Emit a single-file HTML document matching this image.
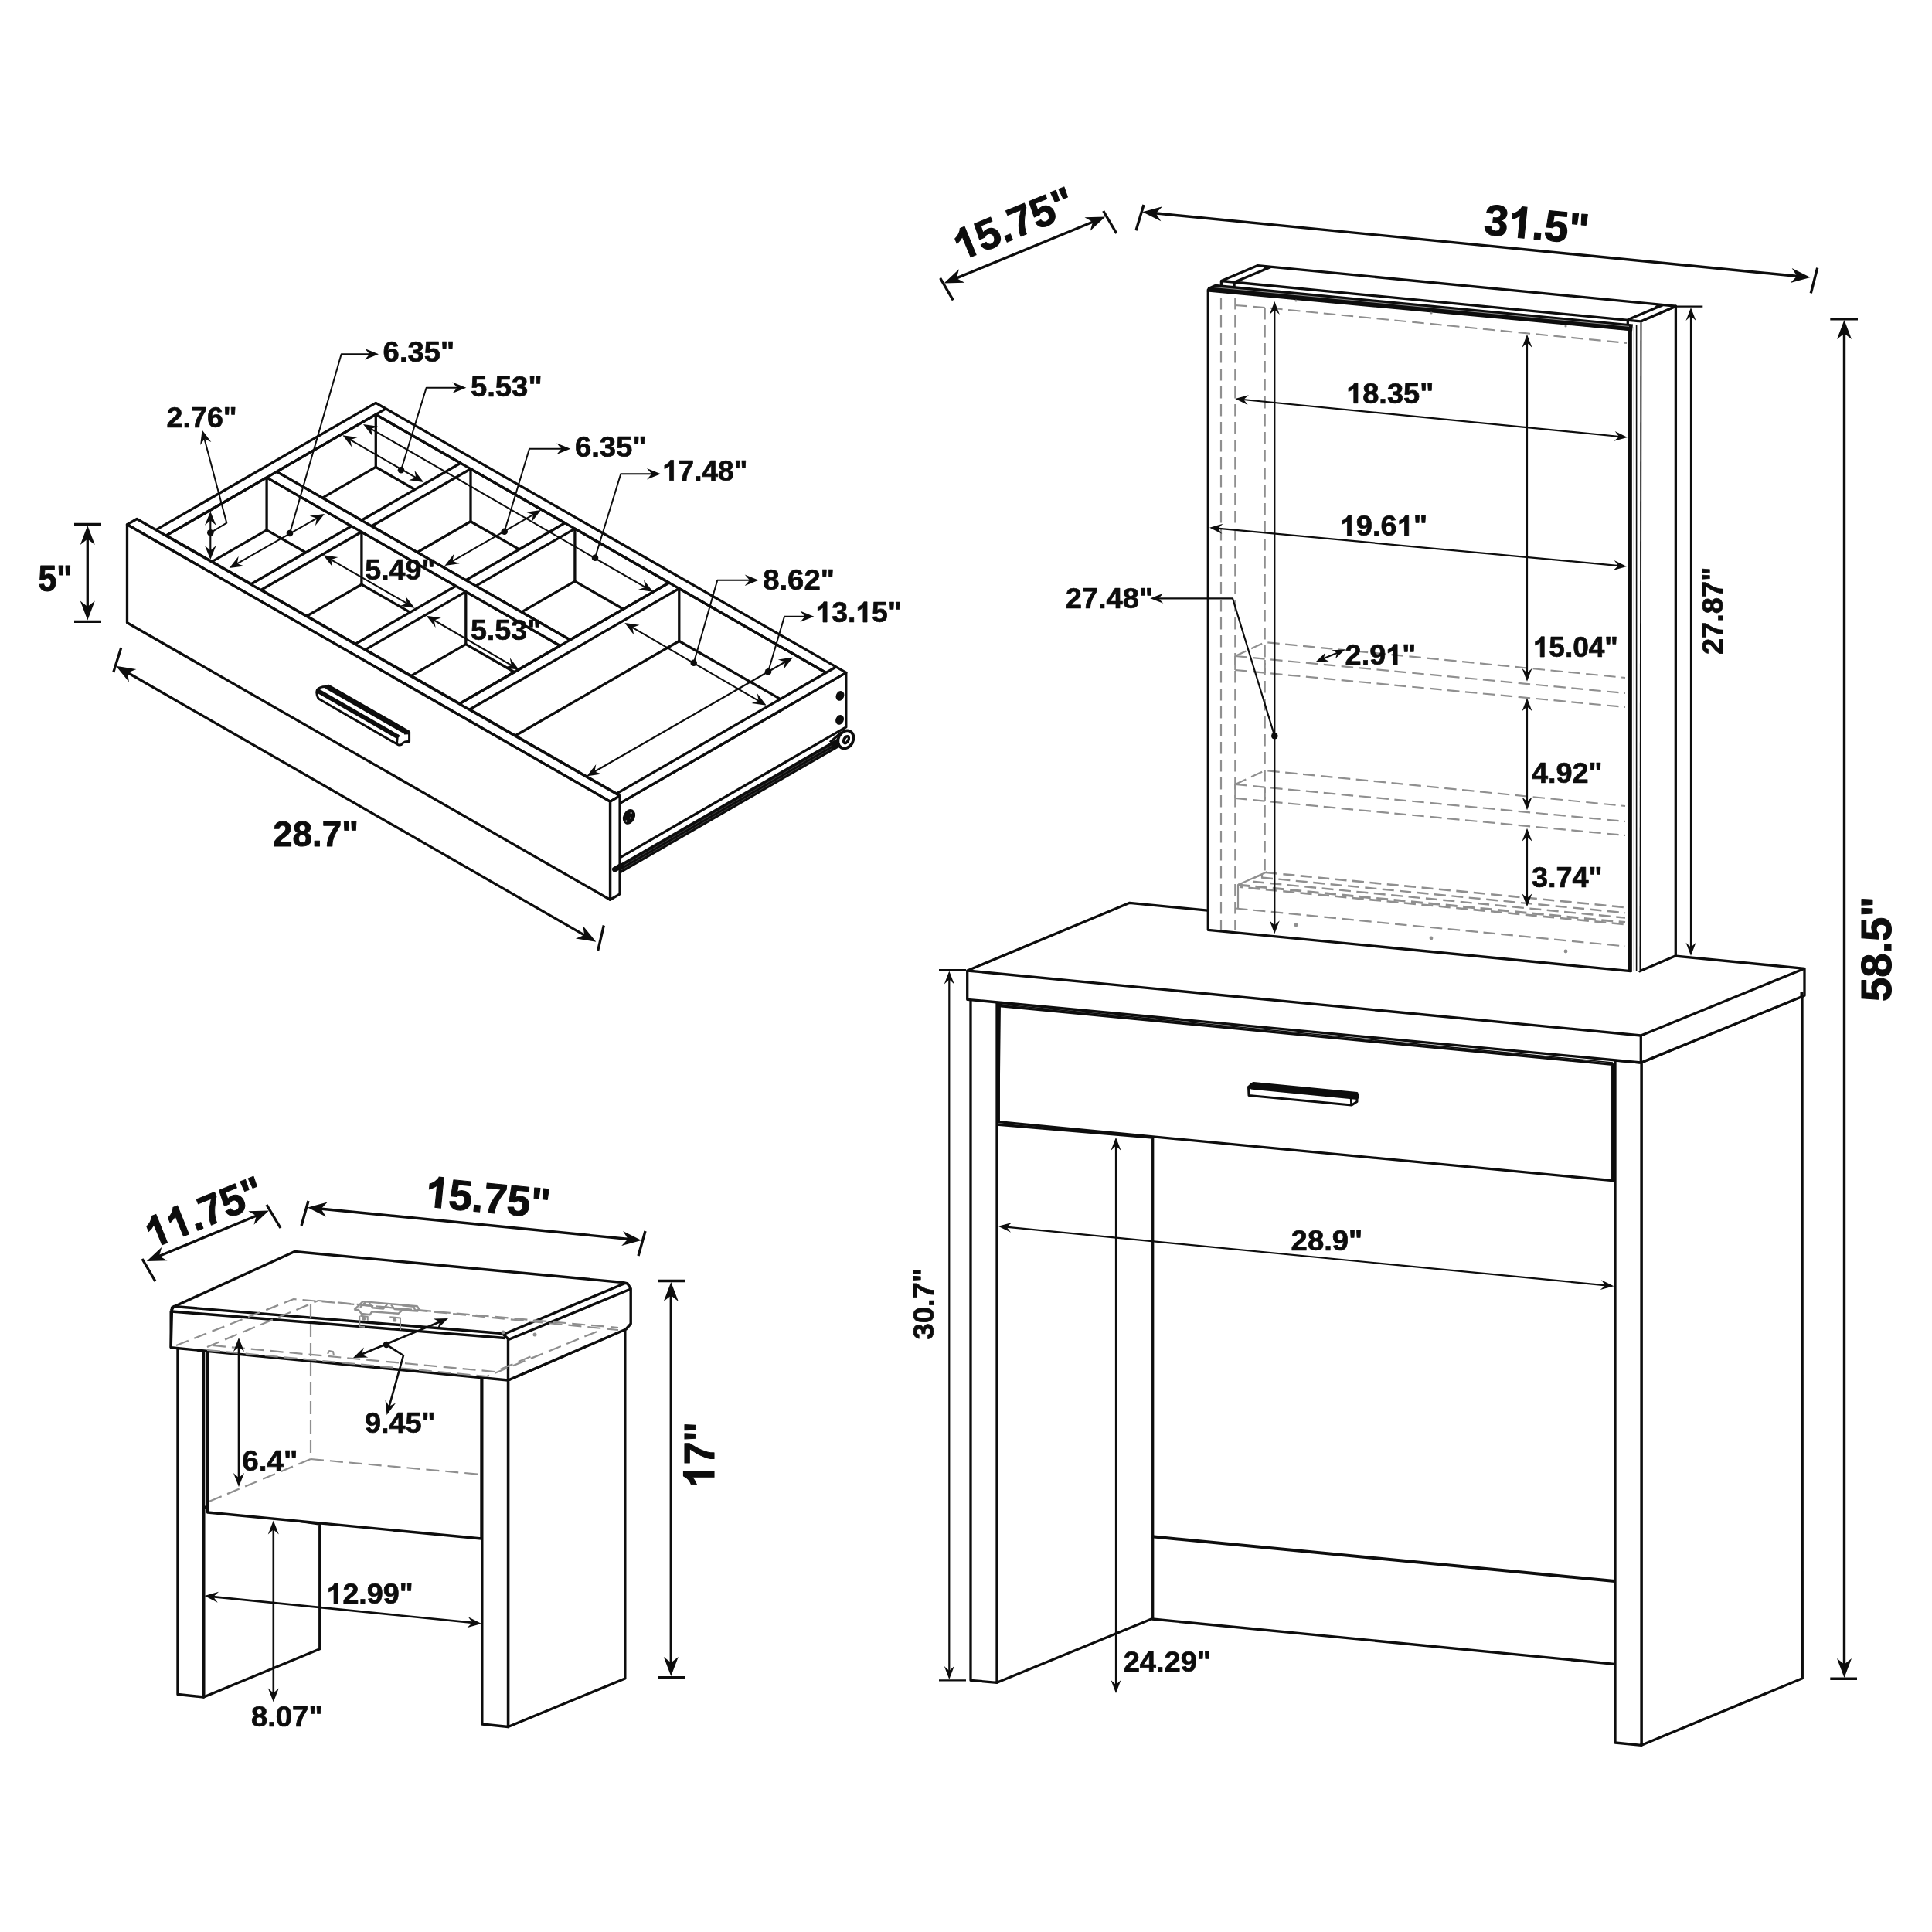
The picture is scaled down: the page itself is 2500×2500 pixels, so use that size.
<!DOCTYPE html>
<html><head><meta charset="utf-8"><title>Vanity set dimensions</title>
<style>
html,body{margin:0;padding:0;background:#fff;}
body{width:2500px;height:2500px;overflow:hidden;}
svg{display:block;font-family:"Liberation Sans",sans-serif;font-weight:bold;}
text{stroke-linejoin:round;}
svg{filter:grayscale(1);}
</style></head><body>
<svg xmlns="http://www.w3.org/2000/svg" width="2500" height="2500" viewBox="0 0 2500 2500">
<rect width="2500" height="2500" fill="#fff"/>
<polygon points="799.5,1040.9 1094.8,870.4 1094.8,940.9 799.5,1111.4" fill="#fff" stroke="#0d0d0d" stroke-width="3.3" stroke-linecap="butt" stroke-linejoin="round"/>
<polyline points="799.5,1125.9 1085.3,960.9" fill="none" stroke="#0d0d0d" stroke-width="11" stroke-linecap="butt" stroke-linejoin="round"/>
<polyline points="799.5,1124.4 1075.8,964.9" fill="none" stroke="#4a4a4a" stroke-width="0.8" stroke-linecap="butt" stroke-linejoin="round"/>
<polyline points="799.5,1128.4 1075.8,968.9" fill="none" stroke="#4a4a4a" stroke-width="0.8" stroke-linecap="butt" stroke-linejoin="round"/>
<polyline points="1074,960.4 1088.4,947.9" fill="none" stroke="#0d0d0d" stroke-width="3.3" stroke-linecap="butt" stroke-linejoin="round"/>
<ellipse cx="1094.4" cy="956.9" rx="9.6" ry="12" transform="rotate(28 1094.4 956.9)" fill="#fff" stroke="#0d0d0d" stroke-width="3.8"/>
<ellipse cx="1095" cy="957.2" rx="4.6" ry="6.6" transform="rotate(28 1095 957.2)" fill="#0d0d0d" stroke="none" stroke-width="0"/>
<ellipse cx="1095" cy="957.2" rx="0.9" ry="3.2" transform="rotate(32 1095 957.2)" fill="#fff" stroke="none" stroke-width="0"/>
<ellipse cx="1087" cy="900.4" rx="5.2" ry="6.6" transform="rotate(25 1087 900.4)" fill="#0d0d0d" stroke="none" stroke-width="0"/>
<ellipse cx="1086.6" cy="931.4" rx="5.2" ry="6.6" transform="rotate(25 1086.6 931.4)" fill="#0d0d0d" stroke="none" stroke-width="0"/>
<ellipse cx="814" cy="1056.9" rx="7.6" ry="10.3" transform="rotate(25 814 1056.9)" fill="#0d0d0d" stroke="none" stroke-width="0"/>
<circle cx="816.6" cy="1051.9" r="1" fill="#fff" stroke="none" stroke-width="0"/>
<circle cx="810.4" cy="1062.5" r="1" fill="#fff" stroke="none" stroke-width="0"/>
<circle cx="816.2" cy="1058.5" r="1" fill="#fff" stroke="none" stroke-width="0"/>
<polygon points="191.8,691.4 486.3,521.4 1094.8,870.4 800.4,1040.4" fill="#fff" stroke="#0d0d0d" stroke-width="3.3" stroke-linecap="butt" stroke-linejoin="round"/>
<polygon points="215.2,692.9 345.1,617.9 454.9,680.8 325,755.8" fill="#fff" stroke="#0d0d0d" stroke-width="3.3" stroke-linecap="butt" stroke-linejoin="round"/>
<polyline points="345.1,617.9 345.1,685.9" fill="none" stroke="#0d0d0d" stroke-width="3.3" stroke-linecap="butt" stroke-linejoin="round"/>
<polyline points="395.9,715 345.1,685.9 274.1,726.9" fill="none" stroke="#0d0d0d" stroke-width="3.3" stroke-linecap="butt" stroke-linejoin="round"/>
<polygon points="358.1,610.4 486.3,536.4 596,599.3 467.9,673.3" fill="#fff" stroke="#0d0d0d" stroke-width="3.3" stroke-linecap="butt" stroke-linejoin="round"/>
<polyline points="486.3,536.4 486.3,604.4" fill="none" stroke="#0d0d0d" stroke-width="3.3" stroke-linecap="butt" stroke-linejoin="round"/>
<polyline points="537,633.5 486.3,604.4 417,644.4" fill="none" stroke="#0d0d0d" stroke-width="3.3" stroke-linecap="butt" stroke-linejoin="round"/>
<polygon points="338,763.3 467.9,688.3 589.8,758.2 459.9,833.2" fill="#fff" stroke="#0d0d0d" stroke-width="3.3" stroke-linecap="butt" stroke-linejoin="round"/>
<polyline points="467.9,688.3 467.9,756.3" fill="none" stroke="#0d0d0d" stroke-width="3.3" stroke-linecap="butt" stroke-linejoin="round"/>
<polyline points="530.8,792.4 467.9,756.3 396.9,797.3" fill="none" stroke="#0d0d0d" stroke-width="3.3" stroke-linecap="butt" stroke-linejoin="round"/>
<polygon points="480.9,680.8 609,606.8 730.9,676.7 602.8,750.7" fill="#fff" stroke="#0d0d0d" stroke-width="3.3" stroke-linecap="butt" stroke-linejoin="round"/>
<polyline points="609,606.8 609,674.8" fill="none" stroke="#0d0d0d" stroke-width="3.3" stroke-linecap="butt" stroke-linejoin="round"/>
<polyline points="671.9,710.9 609,674.8 539.8,714.8" fill="none" stroke="#0d0d0d" stroke-width="3.3" stroke-linecap="butt" stroke-linejoin="round"/>
<polygon points="472.9,840.6 602.8,765.6 724.7,835.5 594.8,910.5" fill="#fff" stroke="#0d0d0d" stroke-width="3.3" stroke-linecap="butt" stroke-linejoin="round"/>
<polyline points="602.8,765.6 602.8,833.6" fill="none" stroke="#0d0d0d" stroke-width="3.3" stroke-linecap="butt" stroke-linejoin="round"/>
<polyline points="665.7,869.7 602.8,833.6 531.8,874.6" fill="none" stroke="#0d0d0d" stroke-width="3.3" stroke-linecap="butt" stroke-linejoin="round"/>
<polygon points="615.8,758.1 743.9,684.1 865.8,754 737.6,828" fill="#fff" stroke="#0d0d0d" stroke-width="3.3" stroke-linecap="butt" stroke-linejoin="round"/>
<polyline points="743.9,684.1 743.9,752.1" fill="none" stroke="#0d0d0d" stroke-width="3.3" stroke-linecap="butt" stroke-linejoin="round"/>
<polyline points="806.8,788.2 743.9,752.1 674.7,792.1" fill="none" stroke="#0d0d0d" stroke-width="3.3" stroke-linecap="butt" stroke-linejoin="round"/>
<polygon points="607.8,918 878.8,761.5 1068.8,870.5 797.8,1027" fill="#fff" stroke="#0d0d0d" stroke-width="3.3" stroke-linecap="butt" stroke-linejoin="round"/>
<polyline points="878.8,761.5 878.8,829.5" fill="none" stroke="#0d0d0d" stroke-width="3.3" stroke-linecap="butt" stroke-linejoin="round"/>
<polyline points="1009.8,904.6 878.8,829.5 666.7,952" fill="none" stroke="#0d0d0d" stroke-width="3.3" stroke-linecap="butt" stroke-linejoin="round"/>
<polygon points="348.2,618.1 724.2,833.8 734.6,827.8 358.6,612.1" fill="#fff"/>
<polyline points="345.1,617.9 724.7,835.5" fill="none" stroke="#0d0d0d" stroke-width="3.3" stroke-linecap="butt" stroke-linejoin="round"/>
<polyline points="358.1,610.4 737.6,828" fill="none" stroke="#0d0d0d" stroke-width="3.3" stroke-linecap="butt" stroke-linejoin="round"/>
<polyline points="215.2,692.9 486.3,536.4 1068.8,870.5" fill="none" stroke="#0d0d0d" stroke-width="3.3" stroke-linecap="butt" stroke-linejoin="round"/>
<polyline points="594.8,910.5 865.8,754" fill="none" stroke="#0d0d0d" stroke-width="3.3" stroke-linecap="butt" stroke-linejoin="round"/>
<polyline points="486.3,536.4 499.3,528.9" fill="none" stroke="#0d0d0d" stroke-width="3.3" stroke-linecap="butt" stroke-linejoin="round"/>
<polyline points="1068.8,870.5 1081.8,863" fill="none" stroke="#0d0d0d" stroke-width="3.3" stroke-linecap="butt" stroke-linejoin="round"/>
<polygon points="164.5,678.8 789.5,1037.2 802.1,1029.9 177.1,671.5" fill="#fff" stroke="#0d0d0d" stroke-width="3.3" stroke-linecap="butt" stroke-linejoin="round"/>
<polygon points="789.5,1037.2 802.1,1029.9 802.1,1156.9 789.5,1164.2" fill="#fff" stroke="#0d0d0d" stroke-width="3.3" stroke-linecap="butt" stroke-linejoin="round"/>
<polygon points="164.5,678.8 789.5,1037.2 789.5,1164.2 164.5,805.8" fill="#fff" stroke="#0d0d0d" stroke-width="3.3" stroke-linecap="butt" stroke-linejoin="round"/>
<polyline points="795.5,1125 802.5,1121" fill="none" stroke="#0d0d0d" stroke-width="7" stroke-linecap="round" stroke-linejoin="round"/>
<path d="M425.5 887.2 L529.6 947 L529.6 959.6 Q524.5 959.1 521 961.6 Q519 965.4 514.5 963.3 L412 904 Q408.5 897.4 410.5 892.6 Q414 888.6 421 888.6 Z" fill="#fff" stroke="#0d0d0d" stroke-width="3" stroke-linejoin="round"/>
<polygon points="425.5,886.4 530.4,946.7 523,949.6 420.5,890.7" fill="#0d0d0d"/>
<polygon points="412.5,891.3 518.5,952.2 513,955.7 410,896.5" fill="#0d0d0d"/>
<polyline points="514.5,950.3 513.5,961.7" fill="none" stroke="#0d0d0d" stroke-width="3" stroke-linecap="butt" stroke-linejoin="round"/>
<polyline points="523,949.2 529.5,948.9" fill="none" stroke="#0d0d0d" stroke-width="2.5" stroke-linecap="butt" stroke-linejoin="round"/>
<polyline points="96,678.3 131,678.3" fill="none" stroke="#0d0d0d" stroke-width="3.3" stroke-linecap="butt" stroke-linejoin="round"/>
<polyline points="96,804.3 131,804.3" fill="none" stroke="#0d0d0d" stroke-width="3.3" stroke-linecap="butt" stroke-linejoin="round"/>
<polyline points="113.3,695.8 113.3,786.8" fill="none" stroke="#0d0d0d" stroke-width="3.3" stroke-linecap="butt" stroke-linejoin="round"/>
<polygon points="113.3,680 122.8,705 113.3,697.5 103.8,705" fill="#0d0d0d"/>
<polygon points="113.3,802.5 103.8,777.5 113.3,785 122.8,777.5" fill="#0d0d0d"/>
<g transform="translate(49.5 765) scale(0.8900 1)" fill="#0d0d0d" stroke="#0d0d0d" stroke-width="1"><text y="0" font-size="48"><tspan x="0">5</tspan><tspan x="26.7">&quot;</tspan></text></g>
<polyline points="163.7,869.5 757.6,1210.9" fill="none" stroke="#0d0d0d" stroke-width="3.3" stroke-linecap="butt" stroke-linejoin="round"/>
<polygon points="150,861.7 176.4,865.9 165.2,870.4 166.9,882.4" fill="#0d0d0d"/>
<polygon points="771.3,1218.7 744.9,1214.5 756.1,1210 754.4,1198" fill="#0d0d0d"/>
<polyline points="156.7,838.3 146.7,870" fill="none" stroke="#0d0d0d" stroke-width="3.3" stroke-linecap="butt" stroke-linejoin="round"/>
<polyline points="781.3,1197.5 773.7,1230" fill="none" stroke="#0d0d0d" stroke-width="3.3" stroke-linecap="butt" stroke-linejoin="round"/>
<g transform="translate(353 1094.5) scale(0.9759 1)" fill="#0d0d0d" stroke="#0d0d0d" stroke-width="0.9"><text y="0" font-size="47"><tspan x="0">2</tspan><tspan x="26.1">8</tspan><tspan x="52.3">.</tspan><tspan x="65.3">7</tspan><tspan x="91.5">&quot;</tspan></text></g>
<g transform="translate(215.6 552.7) scale(1.0320 1)" fill="#0d0d0d" stroke="#0d0d0d" stroke-width="0.7"><text y="0" font-size="36.5"><tspan x="0">2</tspan><tspan x="20.3">.</tspan><tspan x="30.4">7</tspan><tspan x="50.7">6</tspan><tspan x="71">&quot;</tspan></text></g>
<polyline points="272.3,672.2 272.3,713.5" fill="none" stroke="#0d0d0d" stroke-width="2.1" stroke-linecap="butt" stroke-linejoin="round"/>
<polygon points="272.3,661.7 279.6,679.7 272.3,673.4 265,679.7" fill="#0d0d0d"/>
<polygon points="272.3,724 265,706 272.3,712.3 279.6,706" fill="#0d0d0d"/>
<polyline points="272.3,689.3 293.3,676.7 264,566" fill="none" stroke="#0d0d0d" stroke-width="2" stroke-linecap="butt" stroke-linejoin="round"/>
<polygon points="261.6,556.6 273.3,572.1 264.6,567.9 259.1,575.9" fill="#0d0d0d"/>
<circle cx="272.3" cy="689.3" r="4.3" fill="#0d0d0d" stroke="none" stroke-width="0"/>
<g transform="translate(495.6 467.7) scale(1.0495 1)" fill="#0d0d0d" stroke="#0d0d0d" stroke-width="0.7"><text y="0" font-size="36.5"><tspan x="0">6</tspan><tspan x="20.3">.</tspan><tspan x="30.4">3</tspan><tspan x="50.7">5</tspan><tspan x="71">&quot;</tspan></text></g>
<polyline points="375,690 441.7,458.3 481,458.3" fill="none" stroke="#0d0d0d" stroke-width="2" stroke-linecap="butt" stroke-linejoin="round"/>
<polygon points="490,458.3 472,465.6 478.3,458.3 472,451" fill="#0d0d0d"/>
<circle cx="375" cy="690" r="4.3" fill="#0d0d0d" stroke="none" stroke-width="0"/>
<polyline points="305.9,729.8 410.8,670.2" fill="none" stroke="#0d0d0d" stroke-width="2.1" stroke-linecap="butt" stroke-linejoin="round"/>
<polygon points="296.7,735 308.7,719.8 306.9,729.2 316,732.5" fill="#0d0d0d"/>
<polygon points="420,665 408,680.2 409.8,670.8 400.7,667.5" fill="#0d0d0d"/>
<g transform="translate(608.9 513.3) scale(1.0495 1)" fill="#0d0d0d" stroke="#0d0d0d" stroke-width="0.7"><text y="0" font-size="36.5"><tspan x="0">5</tspan><tspan x="20.3">.</tspan><tspan x="30.4">5</tspan><tspan x="50.7">3</tspan><tspan x="71">&quot;</tspan></text></g>
<polyline points="519,608.3 551.7,501.7 594.3,501.7" fill="none" stroke="#0d0d0d" stroke-width="2" stroke-linecap="butt" stroke-linejoin="round"/>
<polygon points="603.3,501.7 585.3,509 591.6,501.7 585.3,494.4" fill="#0d0d0d"/>
<circle cx="519" cy="608.3" r="4.3" fill="#0d0d0d" stroke="none" stroke-width="0"/>
<polyline points="452.4,568.6 539.2,618.7" fill="none" stroke="#0d0d0d" stroke-width="2.1" stroke-linecap="butt" stroke-linejoin="round"/>
<polygon points="443.3,563.3 462.5,566 453.4,569.2 455.2,578.6" fill="#0d0d0d"/>
<polygon points="548.3,624 529.1,621.3 538.2,618.1 536.4,608.7" fill="#0d0d0d"/>
<g transform="translate(743.9 591) scale(1.0495 1)" fill="#0d0d0d" stroke="#0d0d0d" stroke-width="0.7"><text y="0" font-size="36.5"><tspan x="0">6</tspan><tspan x="20.3">.</tspan><tspan x="30.4">3</tspan><tspan x="50.7">5</tspan><tspan x="71">&quot;</tspan></text></g>
<polyline points="652.7,687.7 685,580.7 729.3,580.7" fill="none" stroke="#0d0d0d" stroke-width="2" stroke-linecap="butt" stroke-linejoin="round"/>
<polygon points="738.3,580.7 720.3,588 726.6,580.7 720.3,573.4" fill="#0d0d0d"/>
<circle cx="652.7" cy="687.7" r="4.3" fill="#0d0d0d" stroke="none" stroke-width="0"/>
<polyline points="584.6,726.7 690.9,665.3" fill="none" stroke="#0d0d0d" stroke-width="2.1" stroke-linecap="butt" stroke-linejoin="round"/>
<polygon points="575.5,732 587.4,716.7 585.6,726.1 594.7,729.3" fill="#0d0d0d"/>
<polygon points="700,660 688.1,675.3 689.9,665.9 680.8,662.7" fill="#0d0d0d"/>
<g transform="translate(857 621.7) scale(1.0146 1)" fill="#0d0d0d" stroke="#0d0d0d" stroke-width="0.7"><path d="M806 0H525V1059Q371 915 162 846V1101Q272 1137 401 1238T578 1472H806Z" transform="translate(0 0) scale(0.01782 -0.01782)" stroke-width="41"/><text y="0" font-size="36.5"><tspan x="20.3">7</tspan><tspan x="40.6">.</tspan><tspan x="50.7">4</tspan><tspan x="71">8</tspan><tspan x="91.3">&quot;</tspan></text></g>
<polyline points="770,721.7 803.3,613.3 846,613.3" fill="none" stroke="#0d0d0d" stroke-width="2" stroke-linecap="butt" stroke-linejoin="round"/>
<polygon points="855,613.3 837,620.6 843.3,613.3 837,606" fill="#0d0d0d"/>
<circle cx="770" cy="721.7" r="4.3" fill="#0d0d0d" stroke="none" stroke-width="0"/>
<polyline points="479.1,554.3 835.9,760.4" fill="none" stroke="#0d0d0d" stroke-width="2.1" stroke-linecap="butt" stroke-linejoin="round"/>
<polygon points="470,549 489.2,551.7 480.1,554.9 481.9,564.3" fill="#0d0d0d"/>
<polygon points="845,765.7 825.8,763 834.9,759.8 833.1,750.4" fill="#0d0d0d"/>
<g transform="translate(987.2 763.3) scale(1.0495 1)" fill="#0d0d0d" stroke="#0d0d0d" stroke-width="0.7"><text y="0" font-size="36.5"><tspan x="0">8</tspan><tspan x="20.3">.</tspan><tspan x="30.4">6</tspan><tspan x="50.7">2</tspan><tspan x="71">&quot;</tspan></text></g>
<polyline points="897.7,857.7 928.3,750.7 972.7,750.7" fill="none" stroke="#0d0d0d" stroke-width="2" stroke-linecap="butt" stroke-linejoin="round"/>
<polygon points="981.7,750.7 963.7,758 970,750.7 963.7,743.4" fill="#0d0d0d"/>
<circle cx="897.7" cy="857.7" r="4.3" fill="#0d0d0d" stroke="none" stroke-width="0"/>
<polyline points="817.4,811.3 982.6,907.4" fill="none" stroke="#0d0d0d" stroke-width="2.1" stroke-linecap="butt" stroke-linejoin="round"/>
<polygon points="808.3,806 827.5,808.7 818.4,811.9 820.2,821.4" fill="#0d0d0d"/>
<polygon points="991.7,912.7 972.5,910 981.6,906.8 979.8,897.3" fill="#0d0d0d"/>
<g transform="translate(1055.4 805) scale(1.0241 1)" fill="#0d0d0d" stroke="#0d0d0d" stroke-width="0.7"><path d="M806 0H525V1059Q371 915 162 846V1101Q272 1137 401 1238T578 1472H806Z" transform="translate(0 0) scale(0.01782 -0.01782)" stroke-width="41"/><path d="M806 0H525V1059Q371 915 162 846V1101Q272 1137 401 1238T578 1472H806Z" transform="translate(50.7 0) scale(0.01782 -0.01782)" stroke-width="41"/><text y="0" font-size="36.5"><tspan x="20.3">3</tspan><tspan x="40.6">.</tspan><tspan x="71">5</tspan><tspan x="91.3">&quot;</tspan></text></g>
<polyline points="994,869.3 1015,797.7 1044.3,797.7" fill="none" stroke="#0d0d0d" stroke-width="2" stroke-linecap="butt" stroke-linejoin="round"/>
<polygon points="1053.3,797.7 1035.3,805 1041.6,797.7 1035.3,790.4" fill="#0d0d0d"/>
<circle cx="994" cy="869.3" r="4.3" fill="#0d0d0d" stroke="none" stroke-width="0"/>
<polyline points="768.4,999 1016.9,856" fill="none" stroke="#0d0d0d" stroke-width="2.1" stroke-linecap="butt" stroke-linejoin="round"/>
<polygon points="759.3,1004.3 771.3,989 769.4,998.5 778.5,1001.6" fill="#0d0d0d"/>
<polygon points="1026,850.7 1014,866 1015.9,856.5 1006.8,853.4" fill="#0d0d0d"/>
<polyline points="427.4,723.6 527.6,781.4" fill="none" stroke="#0d0d0d" stroke-width="2.1" stroke-linecap="butt" stroke-linejoin="round"/>
<polygon points="418.3,718.3 437.5,721 428.4,724.2 430.2,733.6" fill="#0d0d0d"/>
<polygon points="536.7,786.7 517.5,784 526.6,780.8 524.8,771.4" fill="#0d0d0d"/>
<g transform="translate(472.2 750) scale(1.0320 1)" fill="#0d0d0d" stroke="#0d0d0d" stroke-width="0.7"><text y="0" font-size="36.5"><tspan x="0">5</tspan><tspan x="20.3">.</tspan><tspan x="30.4">4</tspan><tspan x="50.7">9</tspan><tspan x="71">&quot;</tspan></text></g>
<polyline points="560.8,802 662.6,861.4" fill="none" stroke="#0d0d0d" stroke-width="2.1" stroke-linecap="butt" stroke-linejoin="round"/>
<polygon points="551.7,796.7 570.9,799.5 561.8,802.6 563.6,812.1" fill="#0d0d0d"/>
<polygon points="671.7,866.7 652.5,863.9 661.6,860.8 659.8,851.3" fill="#0d0d0d"/>
<g transform="translate(608.9 827.7) scale(1.0320 1)" fill="#0d0d0d" stroke="#0d0d0d" stroke-width="0.7"><text y="0" font-size="36.5"><tspan x="0">5</tspan><tspan x="20.3">.</tspan><tspan x="30.4">5</tspan><tspan x="50.7">3</tspan><tspan x="71">&quot;</tspan></text></g>
<polygon points="263.6,1950 413.8,1972 413.8,2133.8 263.6,2196" fill="#fff" stroke="#0d0d0d" stroke-width="3.4" stroke-linecap="butt" stroke-linejoin="round"/>
<polygon points="230,1740 263.6,1743 263.6,2196 230,2192.5" fill="#fff" stroke="#0d0d0d" stroke-width="3.4" stroke-linecap="butt" stroke-linejoin="round"/>
<polygon points="657.5,1786 808.8,1720 808.8,2172 657.5,2234.5" fill="#fff" stroke="#0d0d0d" stroke-width="3.4" stroke-linecap="butt" stroke-linejoin="round"/>
<polygon points="623.8,1778 657.5,1781 657.5,2234.5 623.8,2231" fill="#fff" stroke="#0d0d0d" stroke-width="3.4" stroke-linecap="butt" stroke-linejoin="round"/>
<polygon points="268.6,1744 623,1778 623,1991 268.6,1957" fill="#fff" stroke="#0d0d0d" stroke-width="3.4" stroke-linecap="butt" stroke-linejoin="round"/>
<polyline points="402,1888 623,1908" fill="none" stroke="#8f8f8f" stroke-width="2.2" stroke-linecap="butt" stroke-linejoin="round" stroke-dasharray="17 8"/>
<polyline points="402,1888 268,1944" fill="none" stroke="#8f8f8f" stroke-width="2.2" stroke-linecap="butt" stroke-linejoin="round" stroke-dasharray="17 8"/>
<polygon points="222.5,1692 381.2,1619.5 806,1659.5 812,1661 816.2,1667.5 816.2,1713 810,1720 657.5,1786 221.2,1743.8" fill="#fff" stroke="#0d0d0d" stroke-width="3.4" stroke-linecap="butt" stroke-linejoin="round"/>
<polyline points="221.2,1696.2 225,1690.5 650,1725.5 657.5,1732.5 657.5,1786" fill="none" stroke="#0d0d0d" stroke-width="3.4" stroke-linecap="butt" stroke-linejoin="round"/>
<polyline points="221.2,1696.2 221.2,1743.8" fill="none" stroke="#0d0d0d" stroke-width="3.4" stroke-linecap="butt" stroke-linejoin="round"/>
<polyline points="222,1697 654,1731.5" fill="none" stroke="#0d0d0d" stroke-width="3.4" stroke-linecap="butt" stroke-linejoin="round"/>
<polyline points="653,1726 808.8,1660.5" fill="none" stroke="#0d0d0d" stroke-width="3.4" stroke-linecap="butt" stroke-linejoin="round"/>
<polyline points="658,1733.5 816,1668" fill="none" stroke="#0d0d0d" stroke-width="3.4" stroke-linecap="butt" stroke-linejoin="round"/>
<polyline points="402,1688 402,1888" fill="none" stroke="#8f8f8f" stroke-width="2.2" stroke-linecap="butt" stroke-linejoin="round" stroke-dasharray="17 8"/>
<polyline points="228,1741 380,1681 800,1718" fill="none" stroke="#8f8f8f" stroke-width="2.2" stroke-linecap="butt" stroke-linejoin="round" stroke-dasharray="17 8"/>
<polyline points="268,1743 412,1683" fill="none" stroke="#8f8f8f" stroke-width="2.2" stroke-linecap="butt" stroke-linejoin="round" stroke-dasharray="17 8"/>
<polyline points="268,1747 630,1781 775,1722" fill="none" stroke="#8f8f8f" stroke-width="2.2" stroke-linecap="butt" stroke-linejoin="round" stroke-dasharray="17 8"/>
<polyline points="275,1741 640,1775 690,1754" fill="none" stroke="#8f8f8f" stroke-width="2.2" stroke-linecap="butt" stroke-linejoin="round" stroke-dasharray="17 8"/>
<polyline points="412,1683 800,1721" fill="none" stroke="#8f8f8f" stroke-width="2.2" stroke-linecap="butt" stroke-linejoin="round" stroke-dasharray="17 8"/>
<polyline points="458.4,1694.8 469.6,1684.1 539.9,1690.3 541.9,1693.3 540.4,1696.5 520.5,1695.3 515.5,1699.8 481.2,1697.3 478.8,1701.2 467.8,1700 463.9,1695 458.4,1694.8" fill="none" stroke="#8f8f8f" stroke-width="2.4" stroke-linecap="butt" stroke-linejoin="round"/>
<polyline points="477.8,1685.8 482.2,1692.3 496.1,1693.5 501.1,1687.8" fill="none" stroke="#8f8f8f" stroke-width="2.4" stroke-linecap="butt" stroke-linejoin="round"/>
<polyline points="506.1,1688.3 510.6,1694 531.7,1695.5" fill="none" stroke="#8f8f8f" stroke-width="2.4" stroke-linecap="butt" stroke-linejoin="round"/>
<polyline points="520.5,1689.3 535.4,1690.8 536.9,1694.8" fill="none" stroke="#8f8f8f" stroke-width="2.4" stroke-linecap="butt" stroke-linejoin="round"/>
<polyline points="473.3,1684.8 465.8,1691.8" fill="none" stroke="#8f8f8f" stroke-width="2.4" stroke-linecap="butt" stroke-linejoin="round"/>
<polyline points="465.3,1702.7 465.3,1716.6 472,1717.1" fill="none" stroke="#8f8f8f" stroke-width="2" stroke-linecap="butt" stroke-linejoin="round"/>
<polyline points="504.3,1704.2 518,1705.5 518,1720.9" fill="none" stroke="#8f8f8f" stroke-width="2" stroke-linecap="butt" stroke-linejoin="round"/>
<polyline points="466.3,1702.7 475.8,1703.7 475.8,1708.7" fill="none" stroke="#8f8f8f" stroke-width="2" stroke-linecap="butt" stroke-linejoin="round"/>
<circle cx="470.8" cy="1706.2" r="2.6" fill="#8f8f8f" stroke="none" stroke-width="0"/>
<circle cx="510.6" cy="1708" r="2.6" fill="#8f8f8f" stroke="none" stroke-width="0"/>
<circle cx="651" cy="1724" r="2.5" fill="#8f8f8f" stroke="none" stroke-width="0"/>
<circle cx="692" cy="1727" r="2.5" fill="#8f8f8f" stroke="none" stroke-width="0"/>
<polyline points="424,1752 426,1748 431,1749 432,1754" fill="none" stroke="#8f8f8f" stroke-width="2" stroke-linecap="butt" stroke-linejoin="round"/>
<polyline points="204.4,1626 333.4,1572.5" fill="none" stroke="#0d0d0d" stroke-width="3.4" stroke-linecap="butt" stroke-linejoin="round"/>
<polygon points="189.8,1632 209.3,1613.7 206,1625.3 216.5,1631.2" fill="#0d0d0d"/>
<polygon points="348,1566.5 328.5,1584.8 331.8,1573.2 321.3,1567.3" fill="#0d0d0d"/>
<polyline points="184,1629 201,1658" fill="none" stroke="#0d0d0d" stroke-width="3.4" stroke-linecap="butt" stroke-linejoin="round"/>
<polyline points="345,1559 363,1589" fill="none" stroke="#0d0d0d" stroke-width="3.4" stroke-linecap="butt" stroke-linejoin="round"/>
<g transform="translate(197 1616) rotate(-22) scale(0.9775 1)" fill="#0d0d0d" stroke="#0d0d0d" stroke-width="1.1"><path d="M806 0H525V1059Q371 915 162 846V1101Q272 1137 401 1238T578 1472H806Z" transform="translate(0 0) scale(0.02686 -0.02686)" stroke-width="41"/><path d="M806 0H525V1059Q371 915 162 846V1101Q272 1137 401 1238T578 1472H806Z" transform="translate(30.6 0) scale(0.02686 -0.02686)" stroke-width="41"/><text y="0" font-size="55"><tspan x="61.2">.</tspan><tspan x="76.5">7</tspan><tspan x="107">5</tspan><tspan x="137.6">&quot;</tspan></text></g>
<polyline points="413.7,1564 814.3,1603.5" fill="none" stroke="#0d0d0d" stroke-width="3.4" stroke-linecap="butt" stroke-linejoin="round"/>
<polygon points="398,1562.5 423.8,1555.5 415.4,1564.2 421.9,1574.4" fill="#0d0d0d"/>
<polygon points="830,1605 804.2,1612 812.6,1603.3 806.1,1593.1" fill="#0d0d0d"/>
<polyline points="399,1554 390,1586" fill="none" stroke="#0d0d0d" stroke-width="3.4" stroke-linecap="butt" stroke-linejoin="round"/>
<polyline points="835,1593 826,1625" fill="none" stroke="#0d0d0d" stroke-width="3.4" stroke-linecap="butt" stroke-linejoin="round"/>
<g transform="translate(549 1561) rotate(5.6) scale(0.9897 1)" fill="#0d0d0d" stroke="#0d0d0d" stroke-width="1.1"><path d="M806 0H525V1059Q371 915 162 846V1101Q272 1137 401 1238T578 1472H806Z" transform="translate(0 0) scale(0.02686 -0.02686)" stroke-width="41"/><text y="0" font-size="55"><tspan x="30.6">5</tspan><tspan x="61.2">.</tspan><tspan x="76.5">7</tspan><tspan x="107">5</tspan><tspan x="137.6">&quot;</tspan></text></g>
<polyline points="851,1657.5 886,1657.5" fill="none" stroke="#0d0d0d" stroke-width="3.4" stroke-linecap="butt" stroke-linejoin="round"/>
<polyline points="851,2170.7 886,2170.7" fill="none" stroke="#0d0d0d" stroke-width="3.4" stroke-linecap="butt" stroke-linejoin="round"/>
<polyline points="868.3,1674.8 868.3,2153.2" fill="none" stroke="#0d0d0d" stroke-width="3.4" stroke-linecap="butt" stroke-linejoin="round"/>
<polygon points="868.3,1659 877.8,1684 868.3,1676.5 858.8,1684" fill="#0d0d0d"/>
<polygon points="868.3,2169 858.8,2144 868.3,2151.5 877.8,2144" fill="#0d0d0d"/>
<g transform="translate(924 1925) rotate(-90) scale(0.9744 1)" fill="#0d0d0d" stroke="#0d0d0d" stroke-width="1.1"><path d="M806 0H525V1059Q371 915 162 846V1101Q272 1137 401 1238T578 1472H806Z" transform="translate(0 0) scale(0.02686 -0.02686)" stroke-width="41"/><text y="0" font-size="55"><tspan x="30.6">7</tspan><tspan x="61.2">&quot;</tspan></text></g>
<polyline points="309,1741.5 309,1913.5" fill="none" stroke="#0d0d0d" stroke-width="2.6" stroke-linecap="butt" stroke-linejoin="round"/>
<polygon points="309,1731 316,1749 309,1742.7 302,1749" fill="#0d0d0d"/>
<polygon points="309,1924 302,1906 309,1912.3 316,1906" fill="#0d0d0d"/>
<g transform="translate(313.2 1902.5) scale(1.0597 1)" fill="#0d0d0d" stroke="#0d0d0d" stroke-width="0.7"><text y="0" font-size="36.5"><tspan x="0">6</tspan><tspan x="20.3">.</tspan><tspan x="30.4">4</tspan><tspan x="50.7">&quot;</tspan></text></g>
<polyline points="466.7,1753 570.3,1710" fill="none" stroke="#0d0d0d" stroke-width="2.6" stroke-linecap="butt" stroke-linejoin="round"/>
<polygon points="457,1757 470.9,1743.6 467.8,1752.5 476.3,1756.6" fill="#0d0d0d"/>
<polygon points="580,1706 566.1,1719.4 569.2,1710.5 560.7,1706.4" fill="#0d0d0d"/>
<polyline points="500,1740 522,1754 503,1822" fill="none" stroke="#0d0d0d" stroke-width="2.6" stroke-linecap="butt" stroke-linejoin="round"/>
<polygon points="500.5,1831 498.6,1811.8 503.6,1819.7 512.1,1815.5" fill="#0d0d0d"/>
<circle cx="500" cy="1740" r="4.3" fill="#0d0d0d" stroke="none" stroke-width="0"/>
<g transform="translate(471.9 1853.5) scale(1.0378 1)" fill="#0d0d0d" stroke="#0d0d0d" stroke-width="0.7"><text y="0" font-size="36.5"><tspan x="0">9</tspan><tspan x="20.3">.</tspan><tspan x="30.4">4</tspan><tspan x="50.7">5</tspan><tspan x="71">&quot;</tspan></text></g>
<polyline points="275,2066.1 612.5,2099.9" fill="none" stroke="#0d0d0d" stroke-width="2.6" stroke-linecap="butt" stroke-linejoin="round"/>
<polygon points="264.5,2065 283.1,2059.8 276.1,2066.2 281.7,2073.8" fill="#0d0d0d"/>
<polygon points="623,2101 604.4,2106.2 611.4,2099.8 605.8,2092.2" fill="#0d0d0d"/>
<g transform="translate(422.4 2075) scale(1.0336 1)" fill="#0d0d0d" stroke="#0d0d0d" stroke-width="0.7"><path d="M806 0H525V1059Q371 915 162 846V1101Q272 1137 401 1238T578 1472H806Z" transform="translate(0 0) scale(0.01782 -0.01782)" stroke-width="41"/><text y="0" font-size="36.5"><tspan x="20.3">2</tspan><tspan x="40.6">.</tspan><tspan x="50.7">9</tspan><tspan x="71">9</tspan><tspan x="91.3">&quot;</tspan></text></g>
<polyline points="353.8,1978 353.8,2192" fill="none" stroke="#0d0d0d" stroke-width="2.6" stroke-linecap="butt" stroke-linejoin="round"/>
<polygon points="353.8,1967.5 360.8,1985.5 353.8,1979.2 346.8,1985.5" fill="#0d0d0d"/>
<polygon points="353.8,2202.5 346.8,2184.5 353.8,2190.8 360.8,2184.5" fill="#0d0d0d"/>
<g transform="translate(324.9 2233.8) scale(1.0495 1)" fill="#0d0d0d" stroke="#0d0d0d" stroke-width="0.7"><text y="0" font-size="36.5"><tspan x="0">8</tspan><tspan x="20.3">.</tspan><tspan x="30.4">0</tspan><tspan x="50.7">7</tspan><tspan x="71">&quot;</tspan></text></g>
<polygon points="1290,1455 1491.7,1472 1491.7,2094.3 1290,2177.3" fill="#fff" stroke="#0d0d0d" stroke-width="3.3" stroke-linecap="butt" stroke-linejoin="round"/>
<polyline points="1490.7,1988.3 2089.3,2046" fill="none" stroke="#0d0d0d" stroke-width="4" stroke-linecap="butt" stroke-linejoin="round"/>
<polyline points="1490.7,2095 2089.3,2153.3" fill="none" stroke="#0d0d0d" stroke-width="3.3" stroke-linecap="butt" stroke-linejoin="round"/>
<polygon points="1256,1293 1290,1296 1290,2177.3 1256,2174.3" fill="#fff" stroke="#0d0d0d" stroke-width="3.3" stroke-linecap="butt" stroke-linejoin="round"/>
<polygon points="2124,1375 2332,1289 2332.3,2171.7 2124,2258.3" fill="#fff" stroke="#0d0d0d" stroke-width="3.3" stroke-linecap="butt" stroke-linejoin="round"/>
<polygon points="2090,1372 2124,1375 2124,2258.3 2090,2255" fill="#fff" stroke="#0d0d0d" stroke-width="3.3" stroke-linecap="butt" stroke-linejoin="round"/>
<polygon points="1293.3,1301.7 2086.7,1377.3 2086.7,1527.7 1291.7,1451.7" fill="#fff" stroke="#0d0d0d" stroke-width="3.3" stroke-linecap="butt" stroke-linejoin="round"/>
<polyline points="1291.7,1297 1291.7,1451.7" fill="none" stroke="#0d0d0d" stroke-width="4.5" stroke-linecap="butt" stroke-linejoin="round"/>
<polyline points="2088,1377 2088,1527.7" fill="none" stroke="#0d0d0d" stroke-width="4.5" stroke-linecap="butt" stroke-linejoin="round"/>
<polyline points="1293,1299.5 2087,1375" fill="none" stroke="#0d0d0d" stroke-width="1.6" stroke-linecap="butt" stroke-linejoin="round"/>
<polygon points="1251.7,1256 1461.7,1168.3 2335,1253.3 2335,1288.3 2123.3,1375 1251.7,1293.3" fill="#fff" stroke="#0d0d0d" stroke-width="3.3" stroke-linecap="butt" stroke-linejoin="round"/>
<polyline points="1251.7,1256 2123.3,1340 2335,1253.3" fill="none" stroke="#0d0d0d" stroke-width="3.3" stroke-linecap="butt" stroke-linejoin="round"/>
<polyline points="2123.3,1340 2123.3,1375" fill="none" stroke="#0d0d0d" stroke-width="3.3" stroke-linecap="butt" stroke-linejoin="round"/>
<polyline points="2331.5,1284 2331.5,1291" fill="none" stroke="#0d0d0d" stroke-width="4" stroke-linecap="butt" stroke-linejoin="round"/>
<polygon points="1622,1401.5 1756,1414.5 1756,1425.5 1749,1430 1616,1417.5 1615.5,1406.5" fill="#fff" stroke="#0d0d0d" stroke-width="3" stroke-linecap="butt" stroke-linejoin="round"/>
<polyline points="1621,1405.3 1754.5,1418.3" fill="none" stroke="#0d0d0d" stroke-width="9" stroke-linecap="round" stroke-linejoin="round"/>
<polyline points="1748,1419 1748.5,1429" fill="none" stroke="#0d0d0d" stroke-width="2.6" stroke-linecap="butt" stroke-linejoin="round"/>
<polygon points="2122.8,415.9 2168.4,396.2 2168.3,1236.7 2121.7,1256.7" fill="#fff" stroke="#0d0d0d" stroke-width="3.3" stroke-linecap="butt" stroke-linejoin="round"/>
<polygon points="1580.4,363.5 1627.6,343.6 2168.4,396.2 2122.8,415.9" fill="#fff" stroke="#0d0d0d" stroke-width="3.3" stroke-linecap="butt" stroke-linejoin="round"/>
<polyline points="1597.1,365.3 1644.3,345.5" fill="none" stroke="#0d0d0d" stroke-width="3.3" stroke-linecap="butt" stroke-linejoin="round"/>
<polyline points="2106.3,413.8 2151.3,394.7" fill="none" stroke="#0d0d0d" stroke-width="3.3" stroke-linecap="butt" stroke-linejoin="round"/>
<polyline points="1580.4,363.5 1580.4,370.5" fill="none" stroke="#0d0d0d" stroke-width="3.3" stroke-linecap="butt" stroke-linejoin="round"/>
<polyline points="1597.1,365.3 1597.1,372.3" fill="none" stroke="#0d0d0d" stroke-width="3.3" stroke-linecap="butt" stroke-linejoin="round"/>
<polyline points="2106.3,413.8 2106.3,421.8" fill="none" stroke="#0d0d0d" stroke-width="3.3" stroke-linecap="butt" stroke-linejoin="round"/>
<polygon points="1639,343.8 1649,344.8 1641,348.3 1634,347.6" fill="#0d0d0d"/>
<polygon points="2146,393.6 2155,394.5 2149,397.6 2141,396.8" fill="#0d0d0d"/>
<polygon points="2106,422 2122.5,417 2121.5,1256.5 2106,1256.5" fill="#fff"/>
<polygon points="1563.3,375 2110,426 2110,1256.7 1563.3,1203.3" fill="#fff" stroke="#0d0d0d" stroke-width="3.3" stroke-linecap="butt" stroke-linejoin="round"/>
<polygon points="1561.8,377.5 1563,372 1572.5,367.8 2113,419.5 2112,428.5" fill="#0d0d0d"/>
<polyline points="1571,371.6 2108,422.4" fill="none" stroke="#9a9a9a" stroke-width="0.9" stroke-linecap="butt" stroke-linejoin="round"/>
<polyline points="2108.8,424 2108.8,1258" fill="none" stroke="#0d0d0d" stroke-width="5.6" stroke-linecap="butt" stroke-linejoin="round"/>
<polyline points="2117.6,421 2117.6,1257" fill="none" stroke="#0d0d0d" stroke-width="1.6" stroke-linecap="butt" stroke-linejoin="round"/>
<polyline points="2114.2,423 2114.2,1257" fill="none" stroke="#888" stroke-width="0.9" stroke-linecap="butt" stroke-linejoin="round"/>
<polyline points="1580,385 1580,1204" fill="none" stroke="#8f8f8f" stroke-width="2.2" stroke-linecap="butt" stroke-linejoin="round" stroke-dasharray="15.5 7.5"/>
<polyline points="1598.3,385 1598.3,1204" fill="none" stroke="#8f8f8f" stroke-width="2.2" stroke-linecap="butt" stroke-linejoin="round" stroke-dasharray="15.5 7.5"/>
<polyline points="1636.7,398 1636.7,1130" fill="none" stroke="#8f8f8f" stroke-width="2.2" stroke-linecap="butt" stroke-linejoin="round" stroke-dasharray="15.5 7.5"/>
<polyline points="1598.3,395 1636.7,398 2105,444" fill="none" stroke="#8f8f8f" stroke-width="2.2" stroke-linecap="butt" stroke-linejoin="round" stroke-dasharray="15.5 7.5"/>
<polyline points="1598.3,849 1636.7,831 2103,877" fill="none" stroke="#8f8f8f" stroke-width="2.2" stroke-linecap="butt" stroke-linejoin="round" stroke-dasharray="15.5 7.5"/>
<polyline points="1598.3,849 2103,897" fill="none" stroke="#8f8f8f" stroke-width="2.2" stroke-linecap="butt" stroke-linejoin="round" stroke-dasharray="15.5 7.5"/>
<polyline points="1598.3,867 2103,915" fill="none" stroke="#8f8f8f" stroke-width="2.2" stroke-linecap="butt" stroke-linejoin="round" stroke-dasharray="15.5 7.5"/>
<polyline points="1598.3,849 1598.3,867" fill="none" stroke="#8f8f8f" stroke-width="2.2" stroke-linecap="butt" stroke-linejoin="round"/>
<polyline points="1636.7,871 1636.7,853" fill="none" stroke="#8f8f8f" stroke-width="2.2" stroke-linecap="butt" stroke-linejoin="round" stroke-dasharray="6 5"/>
<polyline points="1598.3,1015 1636.7,997 2103,1043" fill="none" stroke="#8f8f8f" stroke-width="2.2" stroke-linecap="butt" stroke-linejoin="round" stroke-dasharray="15.5 7.5"/>
<polyline points="1598.3,1015 2103,1063" fill="none" stroke="#8f8f8f" stroke-width="2.2" stroke-linecap="butt" stroke-linejoin="round" stroke-dasharray="15.5 7.5"/>
<polyline points="1598.3,1033 2103,1081" fill="none" stroke="#8f8f8f" stroke-width="2.2" stroke-linecap="butt" stroke-linejoin="round" stroke-dasharray="15.5 7.5"/>
<polyline points="1598.3,1015 1598.3,1033" fill="none" stroke="#8f8f8f" stroke-width="2.2" stroke-linecap="butt" stroke-linejoin="round"/>
<polyline points="1636.7,1037 1636.7,1019" fill="none" stroke="#8f8f8f" stroke-width="2.2" stroke-linecap="butt" stroke-linejoin="round" stroke-dasharray="6 5"/>
<polyline points="1638,1129 2103,1174.1" fill="none" stroke="#8f8f8f" stroke-width="2.6" stroke-linecap="butt" stroke-linejoin="round" stroke-dasharray="15 7.5"/>
<polyline points="1632,1135.5 2103,1181.2" fill="none" stroke="#8f8f8f" stroke-width="2.4" stroke-linecap="butt" stroke-linejoin="round" stroke-dasharray="15 7.5"/>
<polyline points="1621,1140.8 2103,1187.6" fill="none" stroke="#8f8f8f" stroke-width="2.4" stroke-linecap="butt" stroke-linejoin="round" stroke-dasharray="15 7.5"/>
<polyline points="1602,1145 2103,1193.6" fill="none" stroke="#8f8f8f" stroke-width="3" stroke-linecap="butt" stroke-linejoin="round" stroke-dasharray="15 7.5"/>
<polyline points="1604,1147.8 2103,1196.2" fill="none" stroke="#8f8f8f" stroke-width="2.6" stroke-dasharray="15 7.5" stroke-dashoffset="11"/>
<polyline points="1640,1128 1602,1145 1602,1176" fill="none" stroke="#8f8f8f" stroke-width="2.2" stroke-linecap="butt" stroke-linejoin="round"/>
<polyline points="1623,1136 1633,1131.5 1633,1136" fill="none" stroke="#8f8f8f" stroke-width="2.2" stroke-linecap="butt" stroke-linejoin="round"/>
<polyline points="1599,1175.5 2103,1224.5" fill="none" stroke="#8f8f8f" stroke-width="2.2" stroke-linecap="butt" stroke-linejoin="round" stroke-dasharray="15.5 7.5"/>
<circle cx="1677" cy="1197" r="2.4" fill="#8f8f8f" stroke="none" stroke-width="0"/>
<circle cx="1852" cy="1214" r="2.4" fill="#8f8f8f" stroke="none" stroke-width="0"/>
<circle cx="2026" cy="1231" r="2.4" fill="#8f8f8f" stroke="none" stroke-width="0"/>
<circle cx="1677" cy="389" r="1.6" fill="#8f8f8f" stroke="none" stroke-width="0"/>
<circle cx="1852" cy="405" r="1.6" fill="#8f8f8f" stroke="none" stroke-width="0"/>
<circle cx="2026" cy="422" r="1.6" fill="#8f8f8f" stroke="none" stroke-width="0"/>
<polyline points="1236.1,360.6 1415.6,286.5" fill="none" stroke="#0d0d0d" stroke-width="3.4" stroke-linecap="butt" stroke-linejoin="round"/>
<polygon points="1221.5,366.6 1241,348.3 1237.7,359.9 1248.2,365.8" fill="#0d0d0d"/>
<polygon points="1430.2,280.5 1410.7,298.8 1414,287.2 1403.5,281.3" fill="#0d0d0d"/>
<polyline points="1216.7,360 1233.3,388.3" fill="none" stroke="#0d0d0d" stroke-width="3.4" stroke-linecap="butt" stroke-linejoin="round"/>
<polyline points="1427.7,273 1444.8,302" fill="none" stroke="#0d0d0d" stroke-width="3.4" stroke-linecap="butt" stroke-linejoin="round"/>
<g transform="translate(1243 338) rotate(-22.4) scale(1.0020 1)" fill="#0d0d0d" stroke="#0d0d0d" stroke-width="1.1"><path d="M806 0H525V1059Q371 915 162 846V1101Q272 1137 401 1238T578 1472H806Z" transform="translate(0 0) scale(0.02686 -0.02686)" stroke-width="41"/><text y="0" font-size="55"><tspan x="30.6">5</tspan><tspan x="61.2">.</tspan><tspan x="76.5">7</tspan><tspan x="107">5</tspan><tspan x="137.6">&quot;</tspan></text></g>
<polyline points="1494,275.8 2327,357.5" fill="none" stroke="#0d0d0d" stroke-width="3.4" stroke-linecap="butt" stroke-linejoin="round"/>
<polygon points="1478.3,274.3 1504.1,267.3 1495.7,276 1502.3,286.2" fill="#0d0d0d"/>
<polygon points="2342.7,359 2316.9,366 2325.3,357.3 2318.7,347.1" fill="#0d0d0d"/>
<polyline points="1480,265 1470,298.3" fill="none" stroke="#0d0d0d" stroke-width="3.4" stroke-linecap="butt" stroke-linejoin="round"/>
<polyline points="2351.7,346.7 2343.3,379.3" fill="none" stroke="#0d0d0d" stroke-width="3.4" stroke-linecap="butt" stroke-linejoin="round"/>
<g transform="translate(1919 303) rotate(5.6) scale(1.0035 1)" fill="#0d0d0d" stroke="#0d0d0d" stroke-width="1.1"><path d="M806 0H525V1059Q371 915 162 846V1101Q272 1137 401 1238T578 1472H806Z" transform="translate(31.1 0) scale(0.02734 -0.02734)" stroke-width="41"/><text y="0" font-size="56"><tspan x="0">3</tspan><tspan x="62.3">.</tspan><tspan x="77.8">5</tspan><tspan x="109">&quot;</tspan></text></g>
<polyline points="2368.3,412.7 2404,412.7" fill="none" stroke="#0d0d0d" stroke-width="3.4" stroke-linecap="butt" stroke-linejoin="round"/>
<polyline points="2368.3,2172.3 2403,2172.3" fill="none" stroke="#0d0d0d" stroke-width="3.4" stroke-linecap="butt" stroke-linejoin="round"/>
<polyline points="2386.5,429.8 2386.5,2155.2" fill="none" stroke="#0d0d0d" stroke-width="3.4" stroke-linecap="butt" stroke-linejoin="round"/>
<polygon points="2386.5,414 2396,439 2386.5,431.5 2377,439" fill="#0d0d0d"/>
<polygon points="2386.5,2171 2377,2146 2386.5,2153.5 2396,2146" fill="#0d0d0d"/>
<g transform="translate(2447 1296) rotate(-90) scale(1.0035 1)" fill="#0d0d0d" stroke="#0d0d0d" stroke-width="1.1"><text y="0" font-size="56"><tspan x="0">5</tspan><tspan x="31.1">8</tspan><tspan x="62.3">.</tspan><tspan x="77.8">5</tspan><tspan x="109">&quot;</tspan></text></g>
<polyline points="2170,396.7 2203.3,396.7" fill="none" stroke="#0d0d0d" stroke-width="2.2" stroke-linecap="butt" stroke-linejoin="round"/>
<polyline points="2188,407.9 2188,1226.8" fill="none" stroke="#0d0d0d" stroke-width="2.2" stroke-linecap="butt" stroke-linejoin="round"/>
<polygon points="2188,398 2194.5,415 2188,409.1 2181.5,415" fill="#0d0d0d"/>
<polygon points="2188,1236.7 2181.5,1219.7 2188,1225.7 2194.5,1219.7" fill="#0d0d0d"/>
<g transform="translate(2229.4 847.1) rotate(-90) scale(1.0290 1)" fill="#0d0d0d" stroke="#0d0d0d" stroke-width="0.7"><text y="0" font-size="37"><tspan x="0">2</tspan><tspan x="20.6">7</tspan><tspan x="41.1">.</tspan><tspan x="51.4">8</tspan><tspan x="72">7</tspan><tspan x="92.6">&quot;</tspan></text></g>
<polyline points="1215,1255 1250,1255" fill="none" stroke="#0d0d0d" stroke-width="2.2" stroke-linecap="butt" stroke-linejoin="round"/>
<polyline points="1215,2174.3 1250,2174.3" fill="none" stroke="#0d0d0d" stroke-width="2.2" stroke-linecap="butt" stroke-linejoin="round"/>
<polyline points="1228.3,1266.4 1228.3,2163.1" fill="none" stroke="#0d0d0d" stroke-width="2.2" stroke-linecap="butt" stroke-linejoin="round"/>
<polygon points="1228.3,1256.5 1234.8,1273.5 1228.3,1267.5 1221.8,1273.5" fill="#0d0d0d"/>
<polygon points="1228.3,2173 1221.8,2156 1228.3,2161.9 1234.8,2156" fill="#0d0d0d"/>
<g transform="translate(1207.5 1733.6) rotate(-90) scale(1.0353 1)" fill="#0d0d0d" stroke="#0d0d0d" stroke-width="0.7"><text y="0" font-size="37"><tspan x="0">3</tspan><tspan x="20.6">0</tspan><tspan x="41.1">.</tspan><tspan x="51.4">7</tspan><tspan x="72">&quot;</tspan></text></g>
<polyline points="1649.3,399.9 1649.3,1198.4" fill="none" stroke="#0d0d0d" stroke-width="2.2" stroke-linecap="butt" stroke-linejoin="round"/>
<polygon points="1649.3,390 1655.8,407 1649.3,401.1 1642.8,407" fill="#0d0d0d"/>
<polygon points="1649.3,1208.3 1642.8,1191.3 1649.3,1197.2 1655.8,1191.3" fill="#0d0d0d"/>
<polyline points="1649.3,952.3 1595,774.3 1498,774.3" fill="none" stroke="#0d0d0d" stroke-width="2.2" stroke-linecap="butt" stroke-linejoin="round"/>
<polygon points="1488.3,774.3 1505.3,767.8 1499.3,774.3 1505.3,780.8" fill="#0d0d0d"/>
<circle cx="1649.3" cy="952.3" r="4.3" fill="#0d0d0d" stroke="none" stroke-width="0"/>
<g transform="translate(1378.7 786.7) scale(1.0430 1)" fill="#0d0d0d" stroke="#0d0d0d" stroke-width="0.7"><text y="0" font-size="36.5"><tspan x="0">2</tspan><tspan x="20.3">7</tspan><tspan x="40.6">.</tspan><tspan x="50.7">4</tspan><tspan x="71">8</tspan><tspan x="91.3">&quot;</tspan></text></g>
<polyline points="1608.2,517 2096.1,565" fill="none" stroke="#0d0d0d" stroke-width="2.2" stroke-linecap="butt" stroke-linejoin="round"/>
<polygon points="1598.3,516 1615.9,511.2 1609.3,517.1 1614.6,524.1" fill="#0d0d0d"/>
<polygon points="2106,566 2088.4,570.8 2095,564.9 2089.7,557.9" fill="#0d0d0d"/>
<g transform="translate(1742 521.7) scale(1.0430 1)" fill="#0d0d0d" stroke="#0d0d0d" stroke-width="0.7"><path d="M806 0H525V1059Q371 915 162 846V1101Q272 1137 401 1238T578 1472H806Z" transform="translate(0 0) scale(0.01782 -0.01782)" stroke-width="41"/><text y="0" font-size="36.5"><tspan x="20.3">8</tspan><tspan x="40.6">.</tspan><tspan x="50.7">3</tspan><tspan x="71">5</tspan><tspan x="91.3">&quot;</tspan></text></g>
<polyline points="1574.9,683.6 2095.1,732.1" fill="none" stroke="#0d0d0d" stroke-width="2.2" stroke-linecap="butt" stroke-linejoin="round"/>
<polygon points="1565,682.7 1582.5,677.8 1576,683.7 1581.3,690.7" fill="#0d0d0d"/>
<polygon points="2105,733 2087.5,737.9 2094,732 2088.7,725" fill="#0d0d0d"/>
<g transform="translate(1733.7 693.3) scale(1.0430 1)" fill="#0d0d0d" stroke="#0d0d0d" stroke-width="0.7"><path d="M806 0H525V1059Q371 915 162 846V1101Q272 1137 401 1238T578 1472H806Z" transform="translate(0 0) scale(0.01782 -0.01782)" stroke-width="41"/><path d="M806 0H525V1059Q371 915 162 846V1101Q272 1137 401 1238T578 1472H806Z" transform="translate(71 0) scale(0.01782 -0.01782)" stroke-width="41"/><text y="0" font-size="36.5"><tspan x="20.3">9</tspan><tspan x="40.6">.</tspan><tspan x="50.7">6</tspan><tspan x="91.3">&quot;</tspan></text></g>
<polyline points="1976,442.6 1976,871.8" fill="none" stroke="#0d0d0d" stroke-width="2.2" stroke-linecap="butt" stroke-linejoin="round"/>
<polygon points="1976,432.7 1982.5,449.7 1976,443.8 1969.5,449.7" fill="#0d0d0d"/>
<polygon points="1976,881.7 1969.5,864.7 1976,870.7 1982.5,864.7" fill="#0d0d0d"/>
<g transform="translate(1983.7 850) scale(1.0146 1)" fill="#0d0d0d" stroke="#0d0d0d" stroke-width="0.7"><path d="M806 0H525V1059Q371 915 162 846V1101Q272 1137 401 1238T578 1472H806Z" transform="translate(0 0) scale(0.01782 -0.01782)" stroke-width="41"/><text y="0" font-size="36.5"><tspan x="20.3">5</tspan><tspan x="40.6">.</tspan><tspan x="50.7">0</tspan><tspan x="71">4</tspan><tspan x="91.3">&quot;</tspan></text></g>
<polyline points="1976,913.2 1976,1038.4" fill="none" stroke="#0d0d0d" stroke-width="2.2" stroke-linecap="butt" stroke-linejoin="round"/>
<polygon points="1976,903.3 1982.5,920.3 1976,914.3 1969.5,920.3" fill="#0d0d0d"/>
<polygon points="1976,1048.3 1969.5,1031.3 1976,1037.2 1982.5,1031.3" fill="#0d0d0d"/>
<g transform="translate(1981.9 1013.3) scale(1.0378 1)" fill="#0d0d0d" stroke="#0d0d0d" stroke-width="0.7"><text y="0" font-size="36.5"><tspan x="0">4</tspan><tspan x="20.3">.</tspan><tspan x="30.4">9</tspan><tspan x="50.7">2</tspan><tspan x="71">&quot;</tspan></text></g>
<polyline points="1976,1081.6 1976,1163.4" fill="none" stroke="#0d0d0d" stroke-width="2.2" stroke-linecap="butt" stroke-linejoin="round"/>
<polygon points="1976,1071.7 1982.5,1088.7 1976,1082.8 1969.5,1088.7" fill="#0d0d0d"/>
<polygon points="1976,1173.3 1969.5,1156.3 1976,1162.2 1982.5,1156.3" fill="#0d0d0d"/>
<g transform="translate(1981.9 1148.3) scale(1.0378 1)" fill="#0d0d0d" stroke="#0d0d0d" stroke-width="0.7"><text y="0" font-size="36.5"><tspan x="0">3</tspan><tspan x="20.3">.</tspan><tspan x="30.4">7</tspan><tspan x="50.7">4</tspan><tspan x="71">&quot;</tspan></text></g>
<polyline points="1711.8,852.6 1731.2,844.4" fill="none" stroke="#0d0d0d" stroke-width="2.2" stroke-linecap="butt" stroke-linejoin="round"/>
<polygon points="1702.5,856.5 1714.9,844.8 1712.8,852.2 1719.6,855.8" fill="#0d0d0d"/>
<polygon points="1740.5,840.5 1728.1,852.2 1730.2,844.8 1723.4,841.2" fill="#0d0d0d"/>
<g transform="translate(1740.6 860) scale(1.0378 1)" fill="#0d0d0d" stroke="#0d0d0d" stroke-width="0.7"><path d="M806 0H525V1059Q371 915 162 846V1101Q272 1137 401 1238T578 1472H806Z" transform="translate(50.7 0) scale(0.01782 -0.01782)" stroke-width="41"/><text y="0" font-size="36.5"><tspan x="0">2</tspan><tspan x="20.3">.</tspan><tspan x="30.4">9</tspan><tspan x="71">&quot;</tspan></text></g>
<polyline points="1301.6,1587.7 2078.4,1663.3" fill="none" stroke="#0d0d0d" stroke-width="2.2" stroke-linecap="butt" stroke-linejoin="round"/>
<polygon points="1291.7,1586.7 1309.3,1581.9 1302.7,1587.8 1308,1594.8" fill="#0d0d0d"/>
<polygon points="2088.3,1664.3 2070.7,1669.1 2077.3,1663.2 2072,1656.2" fill="#0d0d0d"/>
<g transform="translate(1670.6 1618.3) scale(1.0495 1)" fill="#0d0d0d" stroke="#0d0d0d" stroke-width="0.7"><text y="0" font-size="36.5"><tspan x="0">2</tspan><tspan x="20.3">8</tspan><tspan x="40.6">.</tspan><tspan x="50.7">9</tspan><tspan x="71">&quot;</tspan></text></g>
<polyline points="1444,1481.6 1444,2181.1" fill="none" stroke="#0d0d0d" stroke-width="2.2" stroke-linecap="butt" stroke-linejoin="round"/>
<polygon points="1444,1471.7 1450.5,1488.7 1444,1482.8 1437.5,1488.7" fill="#0d0d0d"/>
<polygon points="1444,2191 1437.5,2174 1444,2179.9 1450.5,2174" fill="#0d0d0d"/>
<g transform="translate(1453.7 2163.3) scale(1.0430 1)" fill="#0d0d0d" stroke="#0d0d0d" stroke-width="0.7"><text y="0" font-size="36.5"><tspan x="0">2</tspan><tspan x="20.3">4</tspan><tspan x="40.6">.</tspan><tspan x="50.7">2</tspan><tspan x="71">9</tspan><tspan x="91.3">&quot;</tspan></text></g>
</svg>
</body></html>
